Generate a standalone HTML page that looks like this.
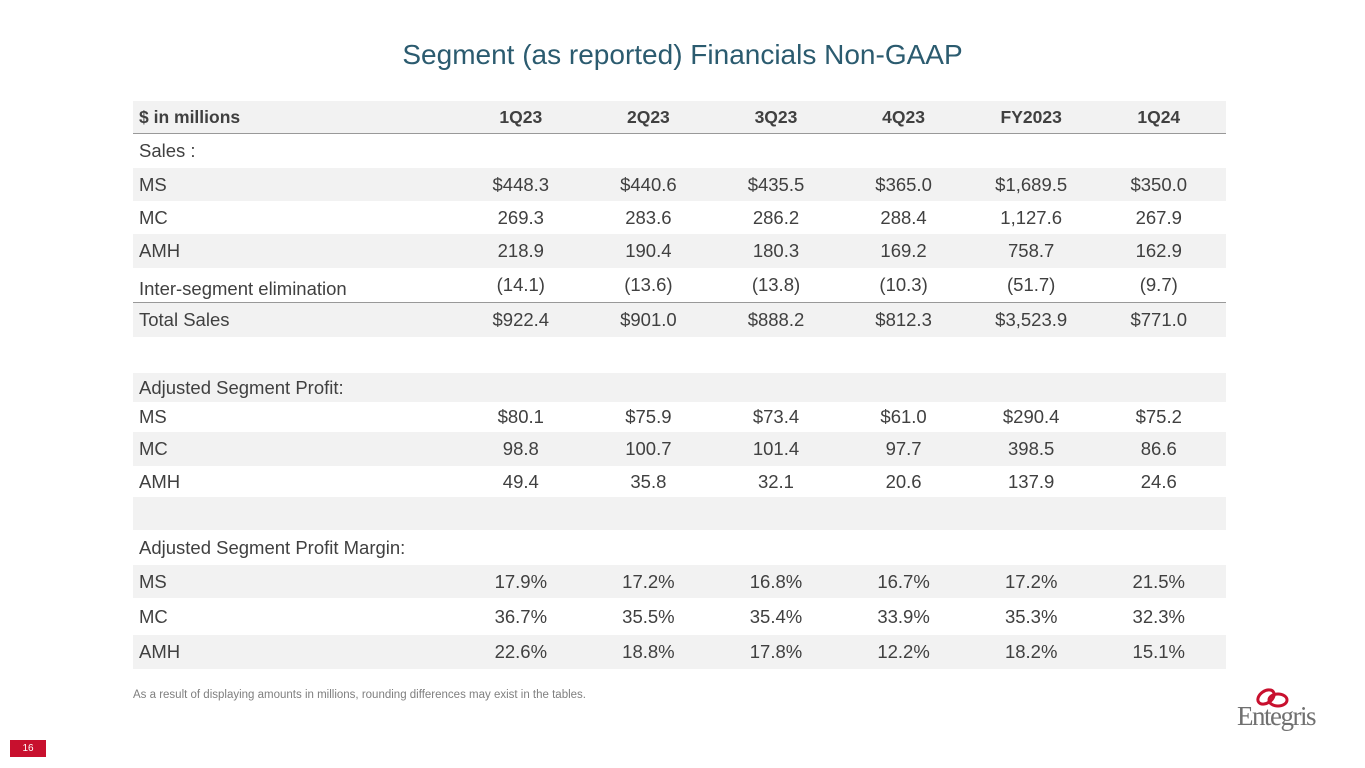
<!DOCTYPE html>
<html><head><meta charset="utf-8"><style>
body{margin:0;width:1365px;height:768px;background:#fff;font-family:"Liberation Sans",sans-serif;color:#404040;position:relative;overflow:hidden}
.title{position:absolute;top:39px;left:0;width:1365px;text-align:center;font-size:28px;color:#2b5b6f}
.row{position:absolute;left:133px;width:1093px;font-size:18.5px;display:flex;align-items:center}
.g{background:#f2f2f2}
.row .l{width:324px;padding-left:6px;box-sizing:border-box;flex-shrink:0}
.row .c{width:127.6px;text-align:center;flex-shrink:0}
.b{font-weight:bold;font-size:17.5px}
.note{position:absolute;left:133px;top:689px;font-size:11.5px;color:#7f7f7f}
.pg{position:absolute;left:10px;top:740px;width:36px;height:17px;background:#c8102e;color:#fff;font-size:10px;text-align:center;line-height:17px}
</style></head><body>
<div class="title">Segment (as reported) Financials Non-GAAP</div>
<div class="row g b" style="top:101px;height:32px;border-bottom:1px solid #999"><div class="l">$ in millions</div><div class="c">1Q23</div><div class="c">2Q23</div><div class="c">3Q23</div><div class="c">4Q23</div><div class="c">FY2023</div><div class="c">1Q24</div></div>
<div class="row" style="top:134px;height:34px"><div class="l">Sales :</div></div>
<div class="row g" style="top:168px;height:33px"><div class="l">MS</div><div class="c">$448.3</div><div class="c">$440.6</div><div class="c">$435.5</div><div class="c">$365.0</div><div class="c">$1,689.5</div><div class="c">$350.0</div></div>
<div class="row" style="top:201px;height:33px"><div class="l">MC</div><div class="c">269.3</div><div class="c">283.6</div><div class="c">286.2</div><div class="c">288.4</div><div class="c">1,127.6</div><div class="c">267.9</div></div>
<div class="row g" style="top:234px;height:34px"><div class="l">AMH</div><div class="c">218.9</div><div class="c">190.4</div><div class="c">180.3</div><div class="c">169.2</div><div class="c">758.7</div><div class="c">162.9</div></div>
<div class="row" style="top:268px;height:34px;border-bottom:1px solid #999;align-items:flex-end"><div class="l" style="padding-bottom:2px">Inter-segment elimination</div><div class="c" style="padding-bottom:6px">(14.1)</div><div class="c" style="padding-bottom:6px">(13.6)</div><div class="c" style="padding-bottom:6px">(13.8)</div><div class="c" style="padding-bottom:6px">(10.3)</div><div class="c" style="padding-bottom:6px">(51.7)</div><div class="c" style="padding-bottom:6px">(9.7)</div></div>
<div class="row g" style="top:303px;height:34px"><div class="l">Total Sales</div><div class="c">$922.4</div><div class="c">$901.0</div><div class="c">$888.2</div><div class="c">$812.3</div><div class="c">$3,523.9</div><div class="c">$771.0</div></div>
<div class="row g" style="top:373px;height:29px"><div class="l">Adjusted Segment Profit:</div></div>
<div class="row" style="top:402px;height:30px"><div class="l">MS</div><div class="c">$80.1</div><div class="c">$75.9</div><div class="c">$73.4</div><div class="c">$61.0</div><div class="c">$290.4</div><div class="c">$75.2</div></div>
<div class="row g" style="top:432px;height:34px"><div class="l">MC</div><div class="c">98.8</div><div class="c">100.7</div><div class="c">101.4</div><div class="c">97.7</div><div class="c">398.5</div><div class="c">86.6</div></div>
<div class="row" style="top:466px;height:31px"><div class="l">AMH</div><div class="c">49.4</div><div class="c">35.8</div><div class="c">32.1</div><div class="c">20.6</div><div class="c">137.9</div><div class="c">24.6</div></div>
<div class="row g" style="top:497px;height:33px"></div>
<div class="row" style="top:530px;height:35px"><div class="l">Adjusted Segment Profit Margin:</div></div>
<div class="row g" style="top:565px;height:33px"><div class="l">MS</div><div class="c">17.9%</div><div class="c">17.2%</div><div class="c">16.8%</div><div class="c">16.7%</div><div class="c">17.2%</div><div class="c">21.5%</div></div>
<div class="row" style="top:598px;height:37px"><div class="l">MC</div><div class="c">36.7%</div><div class="c">35.5%</div><div class="c">35.4%</div><div class="c">33.9%</div><div class="c">35.3%</div><div class="c">32.3%</div></div>
<div class="row g" style="top:635px;height:34px"><div class="l">AMH</div><div class="c">22.6%</div><div class="c">18.8%</div><div class="c">17.8%</div><div class="c">12.2%</div><div class="c">18.2%</div><div class="c">15.1%</div></div>
<div class="note">As a result of displaying amounts in millions, rounding differences may exist in the tables.</div>
<svg style="position:absolute;left:1252px;top:686px" width="40" height="24"><ellipse cx="14" cy="11" rx="9" ry="6" fill="none" stroke="#c8102e" stroke-width="3" transform="rotate(-35 14 11)"/><ellipse cx="26" cy="14" rx="9" ry="6" fill="none" stroke="#c8102e" stroke-width="3"/></svg>
<div style="position:absolute;left:1237px;top:701px;font-family:'Liberation Serif',serif;font-size:27px;color:#707070;letter-spacing:-1.5px">Entegris</div>
<div class="pg">16</div>
</body></html>
